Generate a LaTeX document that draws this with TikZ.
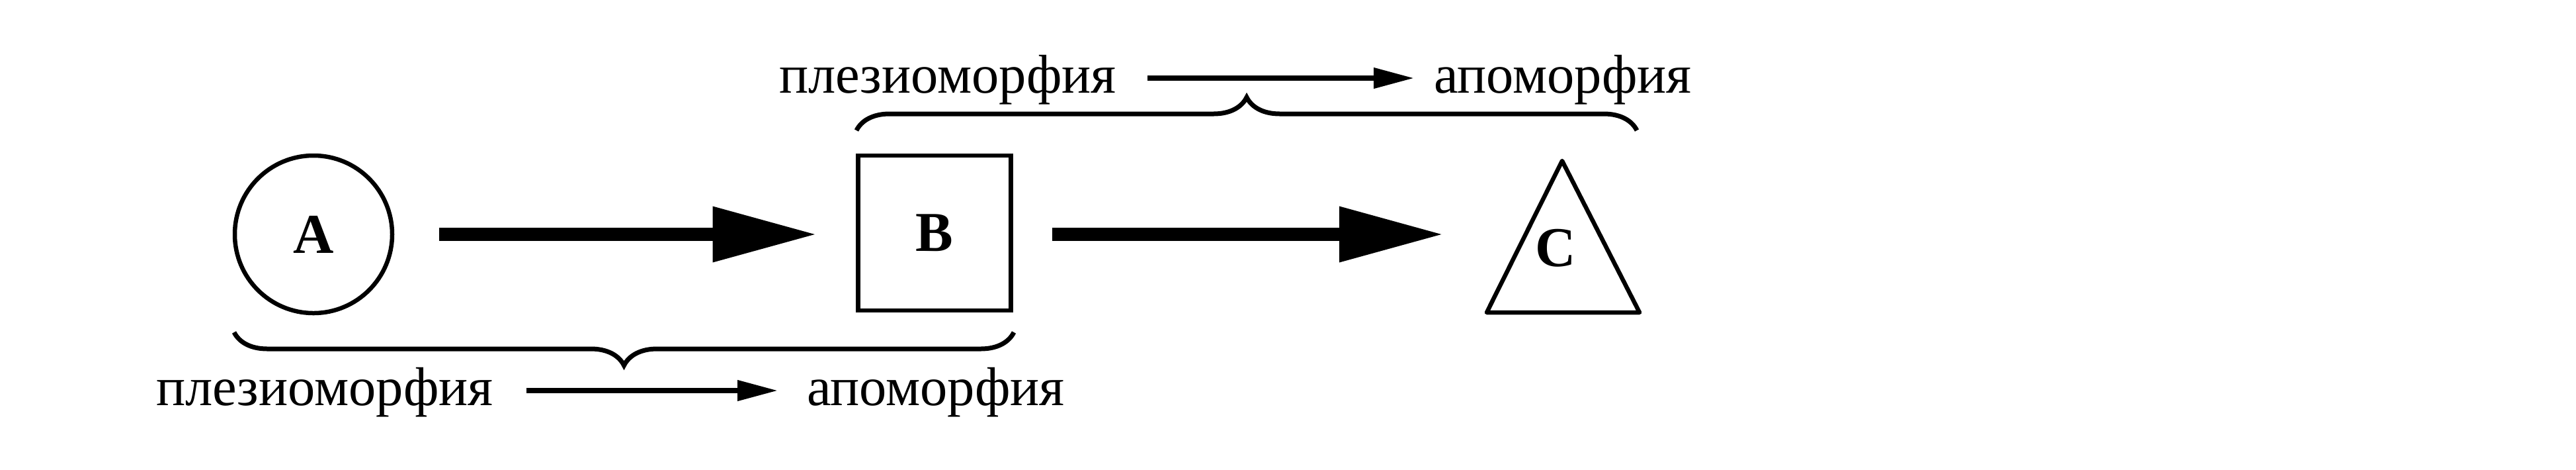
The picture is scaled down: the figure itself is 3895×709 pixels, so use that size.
\documentclass[tikz,border=0pt]{standalone}
\usepackage{fontspec}
\setmainfont{Liberation Serif}
\usetikzlibrary{arrows.meta,decorations.pathreplacing}
\begin{document}
\begin{tikzpicture}[x=0.2pt,y=-0.2pt,
  every node/.style={inner sep=0pt,outer sep=0pt,font=\fontsize{16.5pt}{20pt}\selectfont},
  shapeline/.style={draw,line width=1.3pt},
  lbl/.style={font=\fontsize{17pt}{20pt}\selectfont\bfseries},
  bigarrow/.style={line width=4pt,-{Triangle[length=31.6pt,width=15.8pt]}},
  smallarrow/.style={line width=1.5pt,-{Triangle[length=12.2pt,width=6pt]}},
  bracestyle/.style={line width=1.4pt,decorate,decoration={brace,amplitude=10pt,aspect=0.5}},
  word/.style={anchor=base west}]
\useasboundingbox (0,0) rectangle (3895,709);
% shapes
\node[shapeline,circle,minimum size=47.6pt,lbl] (A) at (474,354) {A};
\node[shapeline,rectangle,minimum width=46.2pt,minimum height=46.8pt,lbl] (B) at (1413,352) {B};
\coordinate (t1) at (2362,243);
\coordinate (t2) at (2248,472);
\coordinate (t3) at (2479,472);
\draw[line width=1.3pt,line join=round] (t1) -- (t2) -- (t3) -- cycle;
\node[lbl] (C) at (2352,375) {C};
\coordinate (c2end) at (2183,354);
% big arrows
\draw[bigarrow,shorten <=14.2pt,shorten >=12.4pt] (A.east |- 0,354) -- (B.west |- 0,354);
\draw[bigarrow,shorten <=12.4pt] (B.east |- 0,354) -- (c2end);
% braces
\coordinate (bb1) at (1533,502);
\coordinate (bb2) at (354,502);
\draw[bracestyle] (bb1) -- (bb2);
\coordinate (tb1) at (1295,197);
\coordinate (tb2) at (2475,197);
\draw[bracestyle] (tb1) -- (tb2);
% bottom texts
\node[word] (p1) at (236,612) {плезиоморфия};
\node[word] (a1) at (1220,612) {апоморфия};
\coordinate (s1a) at (796,590);
\coordinate (s1b) at (1176,590);
\draw[smallarrow] (s1a) -- (s1b);
% top texts
\node[word] (p2) at (1178,140) {плезиоморфия};
\node[word] (a2) at (2168,140) {апоморфия};
\coordinate (s2a) at (1735,118);
\coordinate (s2b) at (2138,118);
\draw[smallarrow] (s2a) -- (s2b);
\end{tikzpicture}
\end{document}
